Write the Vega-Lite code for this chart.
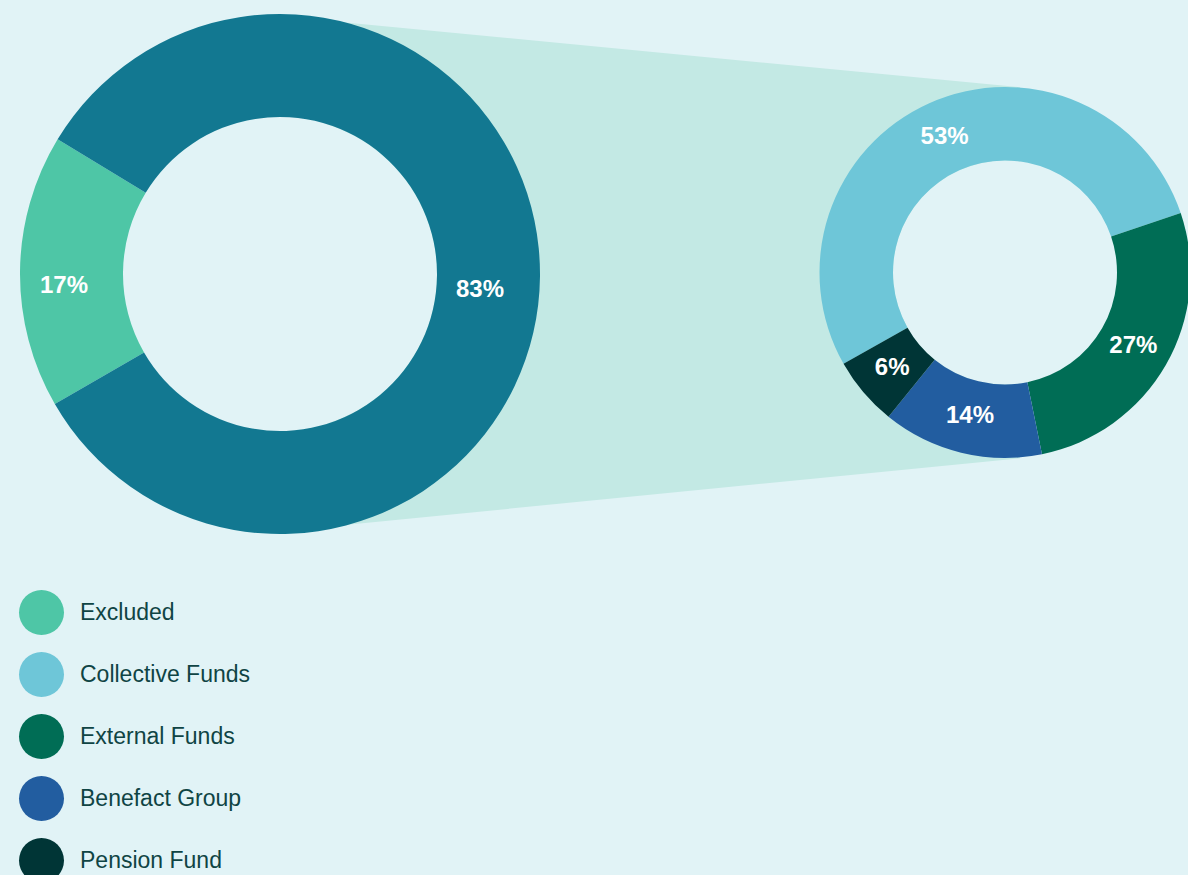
{
  "$schema": "https://vega.github.io/schema/vega-lite/v6.json",
  "width": 1188,
  "height": 875,
  "padding": 0,
  "autosize": {"type": "none"},
  "background": "#E1F3F6",
  "config": {"view": {"stroke": null}, "font": "Liberation Sans"},
  "datasets": {
    "overall": [
      {"segment": "Excluded", "share": 17, "label": "17%", "rank": 1},
      {"segment": "Included", "share": 83, "label": "83%", "rank": 2}
    ],
    "included": [
      {"segment": "Collective Funds", "share": 53, "label": "53%", "rank": 1},
      {"segment": "External Funds", "share": 27, "label": "27%", "rank": 2},
      {"segment": "Benefact Group", "share": 14, "label": "14%", "rank": 3},
      {"segment": "Pension Fund", "share": 6, "label": "6%", "rank": 4}
    ],
    "connector": [
      {"x": 327, "top": 20.7, "bottom": 526.7},
      {"x": 1020, "top": 87.3, "bottom": 458.3}
    ],
    "holes": [
      {"donut": "overall"}
    ]
  },
  "resolve": {"scale": {"theta": "independent"}},
  "layer": [
    {
      "data": {"name": "connector"},
      "mark": {"type": "area", "color": "#C3E9E4", "orient": "vertical"},
      "encoding": {
        "x": {"field": "x", "type": "quantitative", "axis": null, "scale": {"domain": [0, 1188], "range": [0, 1188], "nice": false, "zero": false}},
        "y": {"field": "top", "type": "quantitative", "axis": null, "scale": {"domain": [0, 875], "range": [0, 875], "nice": false, "zero": false}},
        "y2": {"field": "bottom"}
      }
    },
    {
      "data": {"name": "holes"},
      "mark": {"type": "arc", "radius": 157, "theta": 0, "theta2": 6.2832, "color": "#E1F3F6"},
      "encoding": {
        "x": {"datum": 280, "type": "quantitative"},
        "y": {"datum": 274, "type": "quantitative"}
      }
    },
    {
      "data": {"name": "holes"},
      "mark": {"type": "arc", "radius": 112, "theta": 0, "theta2": 6.2832, "color": "#E1F3F6"},
      "encoding": {
        "x": {"datum": 1005, "type": "quantitative"},
        "y": {"datum": 272.5, "type": "quantitative"}
      }
    },
    {
      "data": {"name": "overall"},
      "encoding": {
        "theta": {"field": "share", "type": "quantitative", "stack": true, "scale": {"range": [4.1888, 10.472]}},
        "order": {"field": "rank", "type": "quantitative"},
        "x": {"datum": 280, "type": "quantitative"},
        "y": {"datum": 274, "type": "quantitative"}
      },
      "layer": [
        {
          "mark": {"type": "arc", "outerRadius": 260, "innerRadius": 157},
          "encoding": {
            "color": {
              "field": "segment", "type": "nominal",
              "scale": {"domain": ["Excluded", "Included", "Collective Funds", "External Funds", "Benefact Group", "Pension Fund"], "range": ["#4EC6A6", "#127891", "#6EC6D8", "#006D55", "#225DA0", "#003536"]},
              "legend": {"orient": "none", "legendX": 19, "legendY": 590, "title": null, "values": ["Excluded", "Collective Funds", "External Funds", "Benefact Group", "Pension Fund"], "symbolType": "circle", "symbolSize": 2025, "symbolStrokeWidth": 0, "symbolOpacity": 1, "labelFontSize": 23, "labelColor": "#0F4444", "labelFont": "Liberation Sans", "labelOffset": 16, "rowPadding": 17, "padding": 0, "labelLimit": 400}
            }
          }
        },
        {
          "mark": {"type": "text", "radius": 208, "dx": -8, "dy": 14, "fontSize": 24, "fontWeight": "bold", "color": "white"},
          "encoding": {
            "detail": {"field": "segment", "type": "nominal"},
            "text": {"field": "label", "type": "nominal"}
          }
        }
      ]
    },
    {
      "data": {"name": "included"},
      "encoding": {
        "theta": {"field": "share", "type": "quantitative", "stack": true, "scale": {"range": [4.1975, 10.4807]}},
        "order": {"field": "rank", "type": "quantitative"},
        "x": {"datum": 1005, "type": "quantitative"},
        "y": {"datum": 272.5, "type": "quantitative"}
      },
      "layer": [
        {
          "mark": {"type": "arc", "outerRadius": 185.5, "innerRadius": 112},
          "encoding": {
            "color": {
              "field": "segment", "type": "nominal",
              "scale": {"domain": ["Excluded", "Included", "Collective Funds", "External Funds", "Benefact Group", "Pension Fund"], "range": ["#4EC6A6", "#127891", "#6EC6D8", "#006D55", "#225DA0", "#003536"]},
              "legend": {"orient": "none", "legendX": 19, "legendY": 590, "title": null, "values": ["Excluded", "Collective Funds", "External Funds", "Benefact Group", "Pension Fund"], "symbolType": "circle", "symbolSize": 2025, "symbolStrokeWidth": 0, "symbolOpacity": 1, "labelFontSize": 23, "labelColor": "#0F4444", "labelFont": "Liberation Sans", "labelOffset": 16, "rowPadding": 17, "padding": 0, "labelLimit": 400}
            }
          }
        },
        {
          "mark": {"type": "text", "radius": 148, "fontSize": 24, "fontWeight": "bold", "color": "white"},
          "encoding": {
            "detail": {"field": "segment", "type": "nominal"},
            "text": {"field": "label", "type": "nominal"}
          }
        }
      ]
    }
  ]
}
